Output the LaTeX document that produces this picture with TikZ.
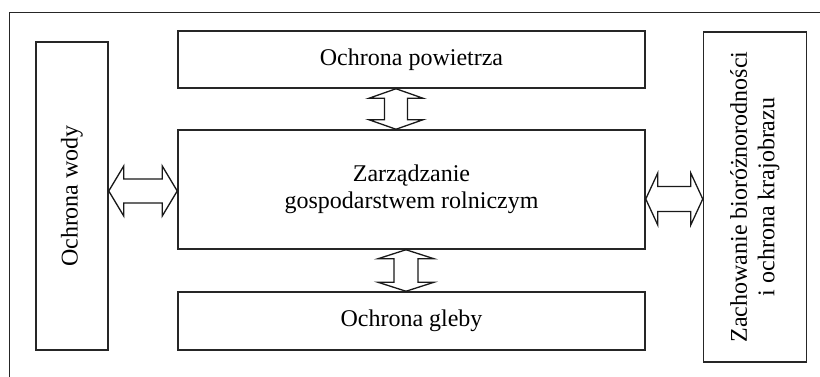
\documentclass[tikz,border=0pt]{standalone}
\usepackage{fontspec}
\setmainfont{Liberation Serif}
\usetikzlibrary{calc}

\tikzset{
  box/.style={draw=black!85, line width=1.5pt, fill=white, inner sep=2pt,
              align=center, font=\fontsize{24}{27.5}\selectfont},
  frameline/.style={draw=black!85, line width=1.4pt},
  dblarrow/.style={draw=black!90, line width=1.3pt, fill=white, line join=miter}
}

\begin{document}
\begin{tikzpicture}[x=1pt, y=-1pt]
  \useasboundingbox (0,0) rectangle (820,377);

  % open outer frame
  \draw[frameline] (820,12.7) -| (9.5,377);

  % boxes
  \node[box, minimum width=72pt, minimum height=308pt] (woda) at (72,196)
    {\rotatebox{90}{Ochrona wody}};
  \node[box, minimum width=467pt, minimum height=57pt] (pow) at (411.5,59.5)
    {Ochrona powietrza};
  \node[box, minimum width=467pt, minimum height=119pt] (zarz) at (411.5,189.5)
    {Zarządzanie\\gospodarstwem rolniczym};
  \node[box, minimum width=467pt, minimum height=58pt] (gleby) at (411.5,321)
    {Ochrona gleby};
  \node[box, minimum width=103pt, minimum height=330pt] (bio) at (755,197)
    {\rotatebox{90}{\begin{tabular}{@{}c@{}}Zachowanie bioróżnorodności\\i ochrona krajobrazu\end{tabular}}};

  % vertical double arrow: air protection <-> farm management
  \coordinate (a1) at ($(pow.south)+(-15.5,0)$);
  \coordinate (b1) at ($(zarz.north)+(-15.5,0)$);
  \draw[dblarrow] (a1) -- ++(27,9.5) -- ++(-15.5,0) -- ($(b1)+(11.5,-9.5)$)
    -- ++(15.5,0) -- (b1) -- ++(-27,-9.5) -- ++(15.5,0) -- ($(a1)+(-11.5,9.5)$)
    -- ++(-15.5,0) -- cycle;

  % vertical double arrow: farm management <-> soil protection
  \coordinate (a2) at ($(zarz.south)+(-5.5,0)$);
  \coordinate (b2) at ($(gleby.north)+(-5.5,0)$);
  \draw[dblarrow] (a2) -- ++(28,9) -- ++(-16,0) -- ($(b2)+(12,-9)$)
    -- ++(16,0) -- (b2) -- ++(-28,-9) -- ++(16,0) -- ($(a2)+(-12,9)$)
    -- ++(-16,0) -- cycle;

  % horizontal double arrow: water protection <-> farm management
  \coordinate (a3) at (woda.east |- 0,191);
  \coordinate (b3) at (zarz.west |- 0,191);
  \draw[dblarrow] (a3) -- ++(15,-25) -- ++(0,13) -- ($(b3)+(-15,-12)$)
    -- ++(0,-13) -- (b3) -- ++(-15,25) -- ++(0,-13) -- ($(a3)+(15,12)$)
    -- ++(0,13) -- cycle;

  % horizontal double arrow: farm management <-> biodiversity
  \coordinate (a4) at (zarz.east |- 0,199);
  \coordinate (b4) at (bio.west |- 0,199);
  \draw[dblarrow] (a4) -- ++(12,-26) -- ++(0,13.5) -- ($(b4)+(-12,-12.5)$)
    -- ++(0,-13.5) -- (b4) -- ++(-12,26) -- ++(0,-13.5) -- ($(a4)+(12,12.5)$)
    -- ++(0,13.5) -- cycle;
\end{tikzpicture}
\end{document}
